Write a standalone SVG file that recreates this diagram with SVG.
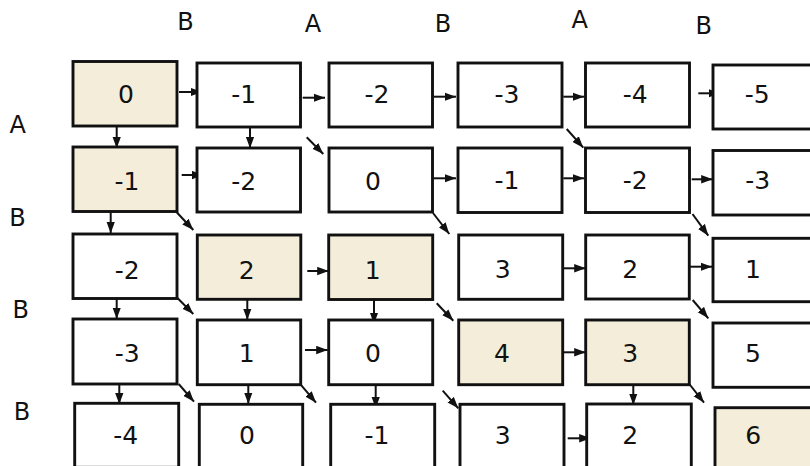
<svg xmlns="http://www.w3.org/2000/svg" width="810" height="466" viewBox="0 0 810 466">
<style>
.box{fill:#ffffff;stroke:#111;stroke-width:2.9}
.hl{fill:#f3edd9}
.num{font-family:"DejaVu Sans",sans-serif;font-size:25px;fill:#111;text-anchor:middle}
.lbl{font-family:"DejaVu Sans",sans-serif;font-size:24px;fill:#111;text-anchor:middle}
.arr{stroke:#111;stroke-width:2;fill:none;marker-end:url(#ah)}
</style>
<defs>
<marker id="ah" markerUnits="userSpaceOnUse" markerWidth="12" markerHeight="9" refX="11.5" refY="4.5" orient="auto">
<path d="M0,0.3 L11.5,4.5 L0,8.7 z" fill="#111"/>
</marker>
</defs>
<rect width="810" height="466" fill="#ffffff"/>
<g id="headers">
<text class="lbl" x="185.5" y="29.5">B</text>
<text class="lbl" x="313" y="31.7">A</text>
<text class="lbl" x="443" y="32.3">B</text>
<text class="lbl" x="579.7" y="28.3">A</text>
<text class="lbl" x="703.7" y="34">B</text>
<text class="lbl" x="17.7" y="133.3">A</text>
<text class="lbl" x="17.5" y="226">B</text>
<text class="lbl" x="20.8" y="318.3">B</text>
<text class="lbl" x="22" y="420">B</text>
</g>
<g id="connectors">
<line class="arr" x1="179" y1="92" x2="202" y2="92"/>
<line class="arr" x1="302.7" y1="97.7" x2="325" y2="97.7"/>
<line class="arr" x1="433.3" y1="96.7" x2="456" y2="96.7"/>
<line class="arr" x1="563.3" y1="96.7" x2="584" y2="96.7"/>
<line class="arr" x1="698.3" y1="93.3" x2="720" y2="93.3"/>
<line class="arr" x1="181.7" y1="175" x2="203.3" y2="175"/>
<line class="arr" x1="433.3" y1="178.3" x2="456" y2="178.3"/>
<line class="arr" x1="563.3" y1="178.3" x2="584" y2="178.3"/>
<line class="arr" x1="691.7" y1="179.3" x2="712.7" y2="179.3"/>
<line class="arr" x1="307.3" y1="271" x2="328.7" y2="271"/>
<line class="arr" x1="564" y1="268.3" x2="585.7" y2="268.3"/>
<line class="arr" x1="689.3" y1="266.7" x2="712" y2="266.7"/>
<line class="arr" x1="305" y1="350" x2="327.7" y2="350"/>
<line class="arr" x1="564" y1="352.3" x2="585.7" y2="352.3"/>
<line class="arr" x1="567.7" y1="438.3" x2="590.7" y2="438.3"/>
<line class="arr" x1="116.7" y1="126" x2="116.7" y2="148.3"/>
<line class="arr" x1="250" y1="127.3" x2="250" y2="148.3"/>
<line class="arr" x1="110.7" y1="212" x2="110.7" y2="233.3"/>
<line class="arr" x1="116.7" y1="298.7" x2="116.7" y2="319"/>
<line class="arr" x1="247.3" y1="299.3" x2="247.3" y2="320"/>
<line class="arr" x1="374" y1="300" x2="374" y2="324"/>
<line class="arr" x1="119.3" y1="384" x2="119.3" y2="404.3"/>
<line class="arr" x1="248.3" y1="382.3" x2="248.3" y2="404"/>
<line class="arr" x1="375.7" y1="385" x2="375.7" y2="408.3"/>
<line class="arr" x1="633.3" y1="385" x2="633.3" y2="405"/>
<line class="arr" x1="306.7" y1="137.3" x2="323.3" y2="154"/>
<line class="arr" x1="566.7" y1="129" x2="583.3" y2="147.7"/>
<line class="arr" x1="176.7" y1="212.3" x2="193.3" y2="230"/>
<line class="arr" x1="433" y1="213" x2="449.3" y2="234"/>
<line class="arr" x1="692.5" y1="214" x2="708.3" y2="235.7"/>
<line class="arr" x1="176.7" y1="297.3" x2="193.3" y2="314"/>
<line class="arr" x1="436.7" y1="303.3" x2="453.3" y2="320.7"/>
<line class="arr" x1="692.7" y1="300" x2="708.3" y2="318.3"/>
<line class="arr" x1="178.7" y1="384" x2="194" y2="401.7"/>
<line class="arr" x1="300.7" y1="384.7" x2="316" y2="402.7"/>
<line class="arr" x1="442.7" y1="390.7" x2="458.3" y2="408.3"/>
<line class="arr" x1="689.3" y1="384" x2="704" y2="402.7"/>
</g>
<g id="n11"><rect class="box hl" x="73" y="61.5" width="104" height="64.5"/><text class="num" x="126" y="103">0</text></g>
<g id="n12"><rect class="box" x="197" y="63" width="103.5" height="64"/><text class="num" x="243.7" y="103">-1</text></g>
<g id="n13"><rect class="box" x="329" y="63" width="103.5" height="64"/><text class="num" x="377" y="103">-2</text></g>
<g id="n14"><rect class="box" x="458" y="63" width="104" height="64"/><text class="num" x="507" y="103">-3</text></g>
<g id="n15"><rect class="box" x="585.5" y="63" width="104" height="64"/><text class="num" x="635.3" y="103">-4</text></g>
<g id="n16"><rect class="box" x="713" y="65" width="104" height="64"/><text class="num" x="757.3" y="103.3">-5</text></g>
<g id="n21"><rect class="box hl" x="73" y="147" width="104" height="64.5"/><text class="num" x="127" y="190">-1</text></g>
<g id="n22"><rect class="box" x="197" y="148" width="103.5" height="64"/><text class="num" x="243.7" y="190">-2</text></g>
<g id="n23"><rect class="box" x="329" y="148" width="103.5" height="64"/><text class="num" x="373" y="190">0</text></g>
<g id="n24"><rect class="box" x="458" y="148" width="104" height="64.5"/><text class="num" x="507" y="189.3">-1</text></g>
<g id="n25"><rect class="box" x="585.5" y="148" width="104" height="64.5"/><text class="num" x="635.3" y="189.3">-2</text></g>
<g id="n26"><rect class="box" x="713" y="150.5" width="104" height="64.5"/><text class="num" x="757.8" y="189.3">-3</text></g>
<g id="n31"><rect class="box" x="73" y="234" width="104" height="64.5"/><text class="num" x="127.3" y="278.5">-2</text></g>
<g id="n32"><rect class="box hl" x="197.3" y="235" width="103.5" height="64.3"/><text class="num" x="246.7" y="278.5">2</text></g>
<g id="n33"><rect class="box hl" x="328.7" y="235" width="104" height="64.5"/><text class="num" x="372.7" y="278.5">1</text></g>
<g id="n34"><rect class="box" x="458.7" y="235" width="104" height="64.3"/><text class="num" x="502.7" y="278.3">3</text></g>
<g id="n35"><rect class="box" x="585.7" y="235" width="103.6" height="64"/><text class="num" x="630.3" y="278.3">2</text></g>
<g id="n36"><rect class="box" x="713" y="238.3" width="104" height="63.4"/><text class="num" x="753" y="278.3">1</text></g>
<g id="n41"><rect class="box" x="73" y="319" width="104" height="65"/><text class="num" x="127.3" y="361.7">-3</text></g>
<g id="n42"><rect class="box" x="197.3" y="320" width="103.4" height="64.7"/><text class="num" x="246.7" y="361.7">1</text></g>
<g id="n43"><rect class="box" x="328.7" y="320" width="104" height="64.7"/><text class="num" x="373" y="361.7">0</text></g>
<g id="n44"><rect class="box hl" x="458.7" y="320" width="104" height="64.7"/><text class="num" x="502" y="361.7">4</text></g>
<g id="n45"><rect class="box hl" x="585.7" y="320" width="103.6" height="64.7"/><text class="num" x="630.3" y="361.7">3</text></g>
<g id="n46"><rect class="box" x="713" y="323" width="104" height="64.3"/><text class="num" x="753" y="361.7">5</text></g>
<g id="n51"><rect class="box" x="74.7" y="403.3" width="104" height="64"/><text class="num" x="125.7" y="443.5">-4</text></g>
<g id="n52"><rect class="box" x="199.3" y="404.3" width="103.4" height="64"/><text class="num" x="247" y="443.5">0</text></g>
<g id="n53"><rect class="box" x="330.7" y="404.3" width="104" height="64"/><text class="num" x="377" y="443.5">-1</text></g>
<g id="n54"><rect class="box" x="460" y="404.3" width="104" height="64"/><text class="num" x="502.7" y="443.5">3</text></g>
<g id="n55"><rect class="box" x="586.7" y="404" width="104.6" height="64"/><text class="num" x="630.3" y="443.5">2</text></g>
<g id="n56"><rect class="box hl" x="715" y="407.7" width="104" height="64"/><text class="num" x="753.3" y="444">6</text></g>
</svg>
